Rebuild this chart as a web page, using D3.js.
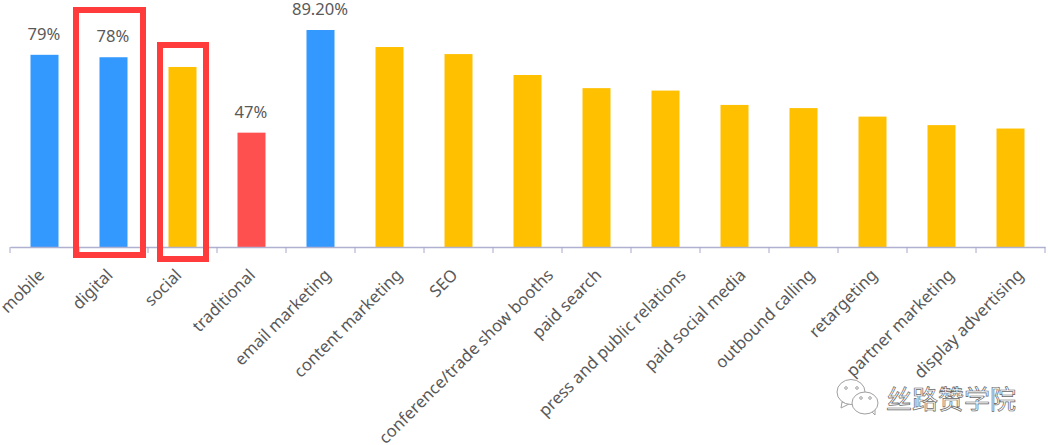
<!DOCTYPE html>
<html>
<head>
<meta charset="utf-8">
<script src="https://cdn.jsdelivr.net/npm/d3@7"></script>
<style>
  html, body { margin: 0; padding: 0; background: #fff; }
  svg { display: block; }
  text { font-family: "Noto Sans", sans-serif; fill: #595959; }
</style>
</head>
<body>
<script>
const categories = ["mobile", "digital", "social", "traditional", "email marketing", "content marketing", "SEO",
  "conference/trade show booths", "paid search", "press and public relations", "paid social media",
  "outbound calling", "retargeting", "partner marketing", "display advertising"];
const values = [79, 78, 74, 47, 89.2, 82.2, 79.3, 70.7, 65.3, 64.3, 58.4, 57.1, 53.6, 50.1, 48.7];
const barColors = ["#3399ff", "#3399ff", "#ffc000", "#ff5050", "#3399ff", "#ffc000", "#ffc000", "#ffc000",
  "#ffc000", "#ffc000", "#ffc000", "#ffc000", "#ffc000", "#ffc000", "#ffc000"];
const valueLabels = ["79%", "78%", null, "47%", "89.20%", null, null, null, null, null, null, null, null, null, null];
const watermark = "丝路赞学院";

const width = 1048, height = 445;
const baseline = 247;

const svg = d3.select("body").append("svg")
  .attr("width", width)
  .attr("height", height);

const x = d3.scaleBand().domain(categories).range([10, 1045]);
const y = d3.scaleLinear().domain([0, 89.2]).range([baseline, 30]);
const barWidth = 28;

// bars
svg.selectAll("rect.bar")
  .data(categories)
  .enter()
  .append("rect")
  .attr("class", "bar")
  .attr("x", (d) => x(d) + x.bandwidth() / 2 - barWidth / 2)
  .attr("width", barWidth)
  .attr("y", (d, i) => y(values[i]))
  .attr("height", (d, i) => baseline - y(values[i]))
  .attr("fill", (d, i) => barColors[i]);

// value labels, only some bars have one
svg.selectAll("text.value")
  .data(categories)
  .enter()
  .append("text")
  .attr("class", "value")
  .attr("x", (d) => x(d) + x.bandwidth() / 2 - 0.5)
  .attr("y", (d, i) => y(values[i]) - 15)
  .attr("text-anchor", "middle")
  .style("font-size", "16.6px")
  .text((d, i) => valueLabels[i]);

// axis with labels, the ticks sit on the band edges so they are drawn below
const axis = svg.append("g")
  .attr("transform", "translate(0," + baseline + ")")
  .call(d3.axisBottom(x).tickSize(0).tickPadding(0));

axis.select(".domain").attr("stroke", "#b0b0d0").attr("stroke-width", 1.5);

// longer labels drift to the right of their band in the original
axis.selectAll(".tick text")
  .style("font-size", "16.6px")
  .attr("text-anchor", "end")
  .attr("dy", "0.35em")
  .attr("y", 0)
  .attr("transform", function () {
    const shift = 0.14 * (this.getComputedTextLength() - 55);
    return "translate(" + (Math.max(shift, -1) - 3) + ",25) rotate(-45)";
  });

axis.selectAll("line.edge")
  .data(d3.range(categories.length + 1))
  .enter()
  .append("line")
  .attr("class", "edge")
  .attr("x1", (i) => x.range()[0] + i * x.step())
  .attr("x2", (i) => x.range()[0] + i * x.step())
  .attr("y1", 0)
  .attr("y2", 6)
  .attr("stroke", "#a8a8cc");

// red highlight boxes
svg.selectAll("rect.box")
  .data([[76, 10, 67, 245], [160, 45, 46, 214]])
  .enter()
  .append("rect")
  .attr("class", "box")
  .attr("x", (d) => d[0])
  .attr("y", (d) => d[1])
  .attr("width", (d) => d[2])
  .attr("height", (d) => d[3])
  .attr("fill", "none")
  .attr("stroke", "#ff3b3b")
  .attr("stroke-width", 6);

// watermark with the two chat bubbles
const mark = svg.append("g").attr("fill", "#fff").attr("stroke", "#a0a0a0").attr("stroke-width", 1);
mark.append("path").attr("d", "M842,402 L841,408 L849,404 Z");
mark.append("ellipse").attr("cx", 851).attr("cy", 392).attr("rx", 14).attr("ry", 12.5);
mark.append("path").attr("d", "M870,410 L875,415 L875,406 Z");
mark.append("ellipse").attr("cx", 865).attr("cy", 403).attr("rx", 13).attr("ry", 11);
mark.selectAll("circle")
  .data([[846, 388], [857, 388], [861, 398], [870, 398]])
  .enter()
  .append("circle")
  .attr("cx", (d) => d[0])
  .attr("cy", (d) => d[1])
  .attr("r", 1.3);

svg.append("text")
  .attr("x", 886)
  .attr("y", 409)
  .style("font-family", '"Noto Sans CJK SC", sans-serif')
  .style("font-size", "26px")
  .style("fill", "#fff")
  .style("stroke", "#666")
  .style("stroke-width", 0.7)
  .text(watermark);
</script>
</body>
</html>
